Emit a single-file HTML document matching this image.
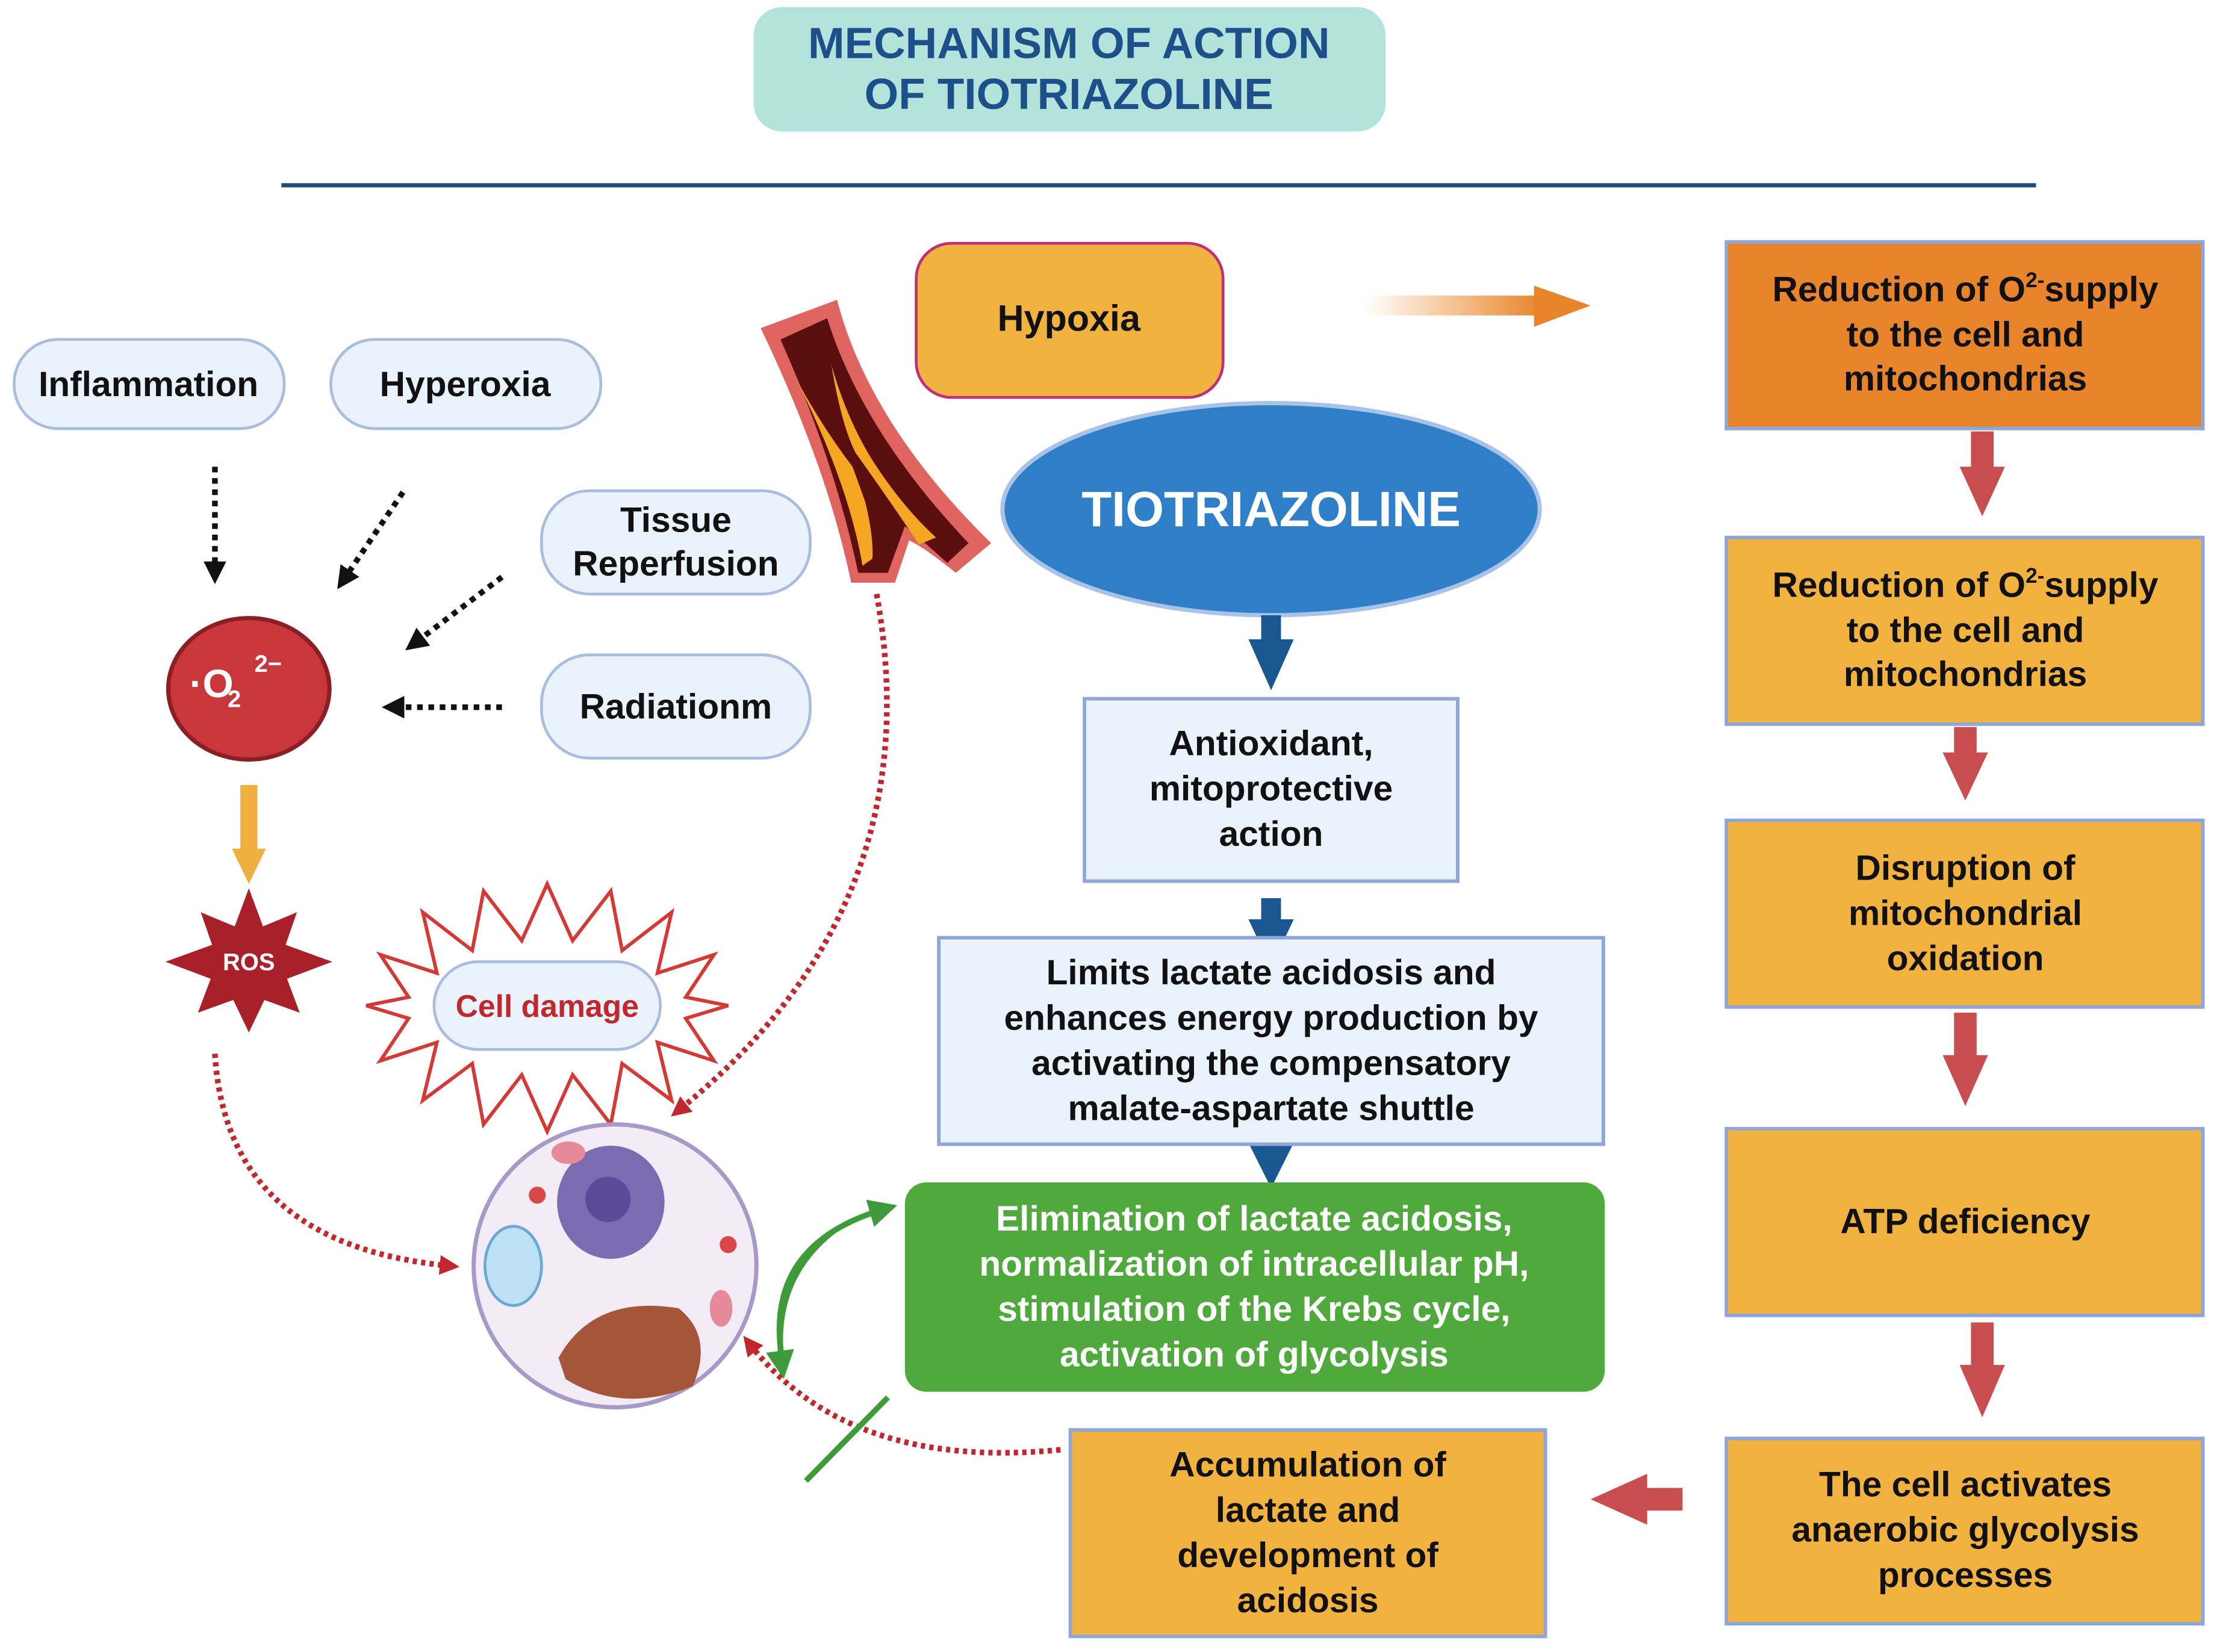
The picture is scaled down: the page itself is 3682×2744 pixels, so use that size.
<!DOCTYPE html>
<html><head><meta charset="utf-8"><style>
html,body{margin:0;padding:0;background:#fff;}
svg{display:block;}
text{font-family:"Liberation Sans",sans-serif;font-weight:bold;}
</style></head><body>
<svg width="3682" height="2744" viewBox="0 0 1568 1168" preserveAspectRatio="none" xmlns="http://www.w3.org/2000/svg">
<defs>
<marker id="ar" markerWidth="14" markerHeight="14" refX="7" refY="7" orient="auto" markerUnits="userSpaceOnUse"><path d="M0,0 L14,7 L0,14 z" fill="#c0282d"/></marker>
<marker id="ag" markerWidth="20" markerHeight="20" refX="10" refY="10" orient="auto" markerUnits="userSpaceOnUse"><path d="M0,0 L20,10 L0,20 z" fill="#3f9b3a"/></marker>
<marker id="ak" markerWidth="16" markerHeight="16" refX="8" refY="8" orient="auto" markerUnits="userSpaceOnUse"><path d="M0,0 L16,8 L0,16 z" fill="#111"/></marker>
<linearGradient id="og" x1="0" x2="1"><stop offset="0" stop-color="#f08a2a" stop-opacity="0"/><stop offset="1" stop-color="#e8842c"/></linearGradient>
</defs>

<rect x="533" y="5" width="447" height="88" rx="20" fill="#b4e3dc"/>
<text x="756" y="41" font-size="31" fill="#1d4f8a" text-anchor="middle">MECHANISM OF ACTION</text>
<text x="756" y="77" font-size="31" fill="#1d4f8a" text-anchor="middle">OF TIOTRIAZOLINE</text>
<line x1="199" y1="131" x2="1440" y2="131" stroke="#1f4e79" stroke-width="3"/>

<g fill="#eaf2fb" stroke="#a8bde0" stroke-width="2">
<rect x="10" y="240" width="191" height="63" rx="31"/>
<rect x="234" y="240" width="191" height="63" rx="31"/>
<rect x="383" y="347" width="190" height="73" rx="34"/>
<rect x="383" y="463" width="190" height="73" rx="34"/>
</g>
<g font-size="25" fill="#111" text-anchor="middle">
<text x="105" y="280">Inflammation</text>
<text x="329" y="280">Hyperoxia</text>
<text x="478" y="376">Tissue</text>
<text x="478" y="407">Reperfusion</text>
<text x="478" y="508">Radiationm</text>
</g>

<g stroke="#111" stroke-width="4" stroke-dasharray="4,4" fill="none" marker-end="url(#ak)">
<line x1="152" y1="330" x2="152" y2="405"/>
<line x1="285" y1="348" x2="243" y2="410"/>
<line x1="355" y1="408" x2="293" y2="455"/>
<line x1="355" y1="500" x2="278" y2="500"/>
</g>

<ellipse cx="176" cy="487" rx="57" ry="50" fill="#c9373c" stroke="#8c1f25" stroke-width="3"/>
<text x="134" y="493" font-size="28" fill="#fff">·O</text>
<text x="161" y="500" font-size="17" fill="#fff">2</text>
<text x="180" y="475" font-size="17" fill="#fff">2−</text>

<rect x="170" y="555" width="12" height="50" fill="#f0b040"/>
<path d="M164,600 L188,600 L176,625 z" fill="#f0b040"/>

<polygon points="176,628 186,655 210,645 202,668 235,680 203,692 212,716 187,707 176,730 165,707 140,716 149,692 117,680 150,668 142,645 166,655" fill="#a8202a"/>
<text x="176" y="686" font-size="17" fill="#fff" text-anchor="middle">ROS</text>

<polygon points="387,625 405,665 432,630 440,672 475,645 465,688 505,675 485,705 515,711 485,720 505,750 465,737 475,778 440,752 432,795 405,760 387,800 369,760 342,795 334,752 299,778 309,737 269,750 289,720 259,711 289,705 269,675 309,688 299,645 334,672 342,630 369,665" fill="#fff" stroke="#d33a35" stroke-width="2.5"/>
<rect x="307" y="680" width="160" height="62" rx="31" fill="#eaf2fb" stroke="#a8bde0" stroke-width="2"/>
<text x="387" y="719" font-size="22" fill="#c0282d" text-anchor="middle">Cell damage</text>

<circle cx="435" cy="895" r="100" fill="#f3ecf7" stroke="#a89ac8" stroke-width="3"/>
<ellipse cx="432" cy="850" rx="38" ry="40" fill="#7b6bb0"/>
<circle cx="430" cy="848" r="16" fill="#5a4a98"/>
<path d="M395,960 Q420,915 480,925 Q505,945 490,980 Q440,1000 400,975 z" fill="#a4553a"/>
<ellipse cx="363" cy="895" rx="20" ry="28" fill="#bfe1f5" stroke="#6aa9d6" stroke-width="2"/>
<circle cx="380" cy="845" r="6" fill="#d84848"/>
<circle cx="515" cy="880" r="6" fill="#d84848"/>
<ellipse cx="510" cy="925" rx="8" ry="13" fill="#e68a9a"/>
<ellipse cx="402" cy="815" rx="12" ry="8" fill="#e68a9a"/>

<!-- blood vessel -->
<path d="M538,232 L592,212 Q615,300 701,384 L676,405 Q655,388 643,382 L633,412 L602,412 Q585,330 538,232 z" fill="#e06560"/>
<path d="M552,240 L585,225 Q610,305 685,384 L670,398 Q650,380 640,372 L628,405 L607,405 Q590,325 552,240 z" fill="#5a0e0e"/>
<path d="M588,258 Q600,300 620,330 Q640,360 662,380 L650,385 Q630,355 605,320 Q595,300 588,258 z" fill="#f5a623"/>
<path d="M560,262 Q580,300 603,330 L612,355 Q618,380 617,395 L610,400 Q600,340 560,262 z" fill="#f5a623"/>

<g stroke="#c0282d" stroke-width="4" stroke-dasharray="3,3" fill="none" marker-end="url(#ar)">
<path d="M620,420 Q660,640 480,785"/>
<path d="M152,745 Q160,880 318,895"/>
<path d="M750,1025 Q600,1040 530,950"/>
</g>

<rect x="648" y="172" width="217" height="109" rx="25" fill="#f2b240" stroke="#c0307a" stroke-width="2"/>
<text x="756" y="234" font-size="26" fill="#111" text-anchor="middle">Hypoxia</text>
<rect x="965" y="209" width="125" height="14" fill="url(#og)"/>
<path d="M1085,202 L1125,216 L1085,231 z" fill="#e8842c"/>

<ellipse cx="899" cy="360" rx="190" ry="75" fill="#2f7fc8" stroke="#a9c3e8" stroke-width="3"/>
<text x="899" y="372" font-size="35" fill="#fff" text-anchor="middle">TIOTRIAZOLINE</text>

<g fill="#1a5690">
<rect x="892" y="435" width="14" height="22"/><path d="M883,452 L915,452 L899,488 z"/>
<rect x="892" y="635" width="14" height="20"/><path d="M883,650 L915,650 L899,684 z"/>
<rect x="892" y="808" width="14" height="10"/><path d="M883,808 L915,808 L899,840 z"/>
</g>

<g fill="#eaf2fb" stroke="#8fa7d6" stroke-width="2.5">
<rect x="767" y="494" width="264" height="129"/>
<rect x="664" y="663" width="470" height="146"/>
</g>
<g font-size="25" fill="#111" text-anchor="middle">
<text x="899" y="534">Antioxidant,</text>
<text x="899" y="566">mitoprotective</text>
<text x="899" y="598">action</text>
<text x="899" y="696">Limits lactate acidosis and</text>
<text x="899" y="728">enhances energy production by</text>
<text x="899" y="760">activating the compensatory</text>
<text x="899" y="792">malate-aspartate shuttle</text>
</g>
<rect x="640" y="836" width="495" height="148" rx="15" fill="#4fa93d"/>
<g font-size="25" fill="#fff" text-anchor="middle">
<text x="887" y="870">Elimination of lactate acidosis,</text>
<text x="887" y="902">normalization of intracellular pH,</text>
<text x="887" y="934">stimulation of the Krebs cycle,</text>
<text x="887" y="966">activation of glycolysis</text>
</g>

<path d="M553,960 Q540,880 625,855" stroke="#3f9b3a" stroke-width="4" fill="none" marker-end="url(#ag)"/>
<path d="M590,870 Q545,905 553,965" stroke="#3f9b3a" stroke-width="4" fill="none" marker-end="url(#ag)"/>
<line x1="570" y1="1047" x2="628" y2="988" stroke="#3f9b3a" stroke-width="4"/>

<g stroke="#8fa7d6" stroke-width="2.5">
<rect x="1221" y="171" width="337" height="132" fill="#e8842c"/>
<rect x="1221" y="380" width="337" height="132" fill="#f2b240"/>
<rect x="1221" y="580" width="337" height="132" fill="#f2b240"/>
<rect x="1221" y="798" width="337" height="132" fill="#f2b240"/>
<rect x="1221" y="1017" width="337" height="131" fill="#f2b240"/>
<rect x="757" y="1011" width="336" height="146" fill="#f2b240"/>
</g>
<g font-size="25" fill="#111" text-anchor="middle">
<text x="1390" y="213">Reduction of O<tspan font-size="15" dy="-10">2-</tspan><tspan dy="10">supply</tspan></text>
<text x="1390" y="245">to the cell and</text>
<text x="1390" y="276">mitochondrias</text>
<text x="1390" y="422">Reduction of O<tspan font-size="15" dy="-10">2-</tspan><tspan dy="10">supply</tspan></text>
<text x="1390" y="454">to the cell and</text>
<text x="1390" y="485">mitochondrias</text>
<text x="1390" y="622">Disruption of</text>
<text x="1390" y="654">mitochondrial</text>
<text x="1390" y="686">oxidation</text>
<text x="1390" y="872">ATP deficiency</text>
<text x="1390" y="1058">The cell activates</text>
<text x="1390" y="1090">anaerobic glycolysis</text>
<text x="1390" y="1122">processes</text>
<text x="925" y="1044">Accumulation of</text>
<text x="925" y="1076">lactate and</text>
<text x="925" y="1108">development of</text>
<text x="925" y="1140">acidosis</text>
</g>

<g fill="#c84d4f">
<rect x="1394" y="305" width="16" height="30"/><path d="M1386,330 L1418,330 L1402,365 z"/>
<rect x="1382" y="514" width="16" height="22"/><path d="M1374,532 L1406,532 L1390,566 z"/>
<rect x="1382" y="716" width="16" height="34"/><path d="M1374,746 L1406,746 L1390,782 z"/>
<rect x="1394" y="935" width="16" height="35"/><path d="M1386,965 L1418,965 L1402,1002 z"/>
<rect x="1160" y="1052" width="30" height="16"/><path d="M1165,1042 L1165,1078 L1125,1060 z"/>
</g>
</svg>
</body></html>
